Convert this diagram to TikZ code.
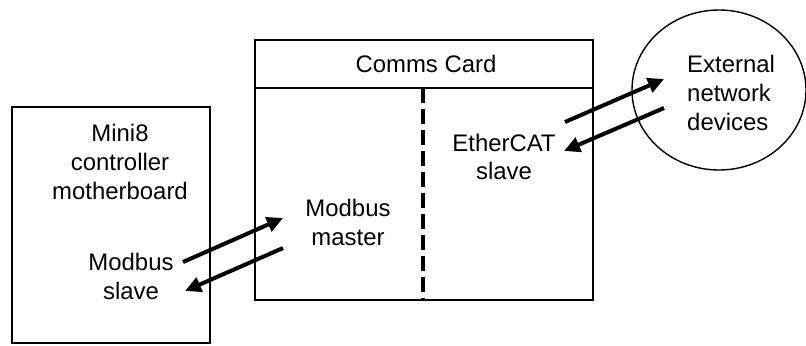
\documentclass[tikz,border=0pt]{standalone}
\usepackage{fontspec}
\setmainfont{Liberation Sans}
\usetikzlibrary{arrows.meta,shapes.geometric}
\begin{document}
\begin{tikzpicture}[x=1bp,y=-1bp,
  box/.style={draw,line width=1.4bp,inner sep=0pt},
  lbl/.style={inner sep=0pt,align=center,font=\fontsize{24}{29}\selectfont},
  flow/.style={line width=4bp,-{Triangle[length=16bp,width=15bp]}},
  divider/.style={line width=3.3bp,dash pattern=on 15bp off 6bp}]
\useasboundingbox (0,0) rectangle (806,345);
% boxes
\node[box,minimum width=198bp,minimum height=236bp] (mb) at (111,225) {};
\node[box,minimum width=338bp,minimum height=260bp] (card) at (424,170) {};
\coordinate (hl) at (255,88);
\coordinate (hr) at (593,88);
\draw[line width=1.4bp] (hl) -- (hr);
\coordinate (dt) at (423,88);
\coordinate (db) at (423,300);
\draw[divider] (dt) -- (db);
\node[draw,ellipse,line width=1.4bp,minimum width=174bp,minimum height=160bp,inner sep=0pt] (ext) at (719,90) {};
% texts
\node[lbl] (title) at (426,64) {Comms Card};
\node[lbl] (mini) at (120,162) {Mini8\\controller\\motherboard};
\node[lbl] (mslave) at (131,276) {Modbus\\slave};
\node[lbl] (mmaster) at (348,222) {Modbus\\master};
\node[lbl] (eslave) at (504,157) {EtherCAT\\slave};
\node[lbl,align=left,anchor=west] (devs) at (687,93) {External\\network\\devices};
% arrows
\coordinate (a1s) at (183,262);
\coordinate (a1e) at (283,218);
\coordinate (a2s) at (283,248);
\coordinate (a2e) at (185,291);
\coordinate (b1s) at (565,122);
\coordinate (b1e) at (664,79);
\coordinate (b2s) at (664,108);
\coordinate (b2e) at (564,151);
\draw[flow] (a1s) -- (a1e);
\draw[flow] (a2s) -- (a2e);
\draw[flow] (b1s) -- (b1e);
\draw[flow] (b2s) -- (b2e);
\end{tikzpicture}
\end{document}
